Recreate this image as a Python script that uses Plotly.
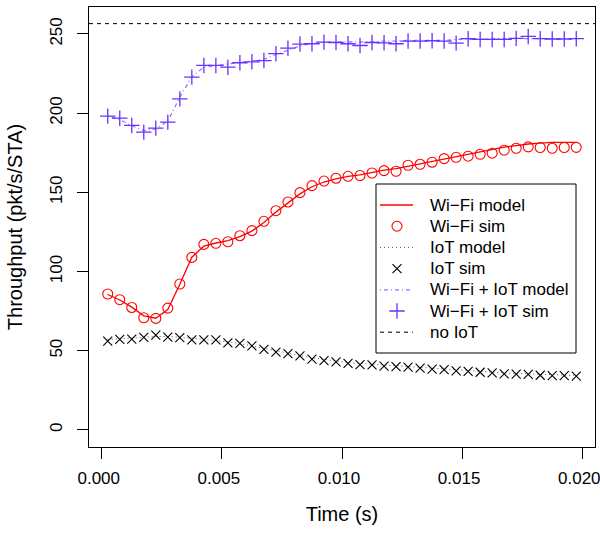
import plotly.graph_objects as go

time_s = [0.00025, 0.00075, 0.00125, 0.00175, 0.00225, 0.00275, 0.00325, 0.00375,
          0.00425, 0.00475, 0.00525, 0.00575, 0.00625, 0.00675, 0.00725, 0.00775,
          0.00825, 0.00875, 0.00925, 0.00975, 0.01025, 0.01075, 0.01125, 0.01175,
          0.01225, 0.01275, 0.01325, 0.01375, 0.01425, 0.01475, 0.01525, 0.01575,
          0.01625, 0.01675, 0.01725, 0.01775, 0.01825, 0.01875, 0.01925, 0.01975]

wifi_model = [85.5, 82, 77.5, 72, 70.5, 76, 92, 109, 116, 118, 119.5, 122, 125.5, 131,
              137.5, 143.5, 149, 153.5, 156.5, 158.5, 160, 161, 162.5, 164, 165, 166.5,
              168, 169.5, 171, 172.5, 174, 175.5, 177, 178.5, 179.5, 180.5, 181, 181.5,
              181.5, 181.5]
wifi_sim = [85.8, 82.2, 77.3, 70.8, 70.4, 76.9, 92.1, 108.9, 117.1, 117.8, 118.8, 122.6,
            125.8, 131.7, 138.4, 143.9, 149.8, 154.2, 157.1, 158.9, 160.1, 160.6, 162.2,
            163.7, 163.3, 167.1, 167.7, 169.0, 171.3, 172.1, 172.8, 174.0, 174.7, 176.6,
            177.8, 178.7, 178.3, 177.8, 178.3, 178.4]
iot_model = [57, 57.5, 58, 58.5, 59, 59, 58.5, 58, 57, 56.5, 55.5, 54.5, 53, 51.5, 50,
             48.5, 47, 45.5, 44.5, 43.5, 42.5, 42, 41.5, 41, 40.5, 40, 39.5, 39, 38.5, 38,
             37.5, 37, 36.5, 36, 35.5, 35.5, 35, 35, 34.5, 34.5]
iot_sim = [56.1, 57.1, 57.3, 58.4, 59.9, 58.6, 58.2, 56.9, 56.9, 56.9, 55.0, 54.6, 53.1,
           50.8, 49.1, 48.2, 46.8, 44.7, 43.8, 43.0, 42.0, 41.2, 41.0, 40.2, 40.0, 39.6,
           39.0, 38.3, 38.0, 37.2, 37.0, 36.4, 36.0, 35.4, 35.2, 35.0, 34.5, 34.3, 34.2,
           34.0]
both_model = [198, 196, 192, 189, 190, 195, 210, 223, 229, 230, 231, 232, 233, 234, 237,
              240, 242.5, 244, 244.5, 245, 245, 245, 245, 245.5, 245.5, 246, 246, 246, 246,
              246.5, 246.5, 246.5, 247, 247, 247, 247, 247, 247, 247, 247]
both_sim = [198.1, 196.8, 192.2, 188.0, 190.5, 194.3, 209.0, 222.7, 230.1, 230.1, 229.0,
            231.8, 232.4, 233.2, 237.5, 241.0, 243.6, 243.8, 244.8, 244.6, 243.8, 242.7,
            244.6, 244.4, 243.8, 245.5, 245.5, 245.7, 245.5, 244.2, 247.0, 246.5, 246.5,
            246.5, 247.2, 248.4, 247.0, 246.8, 246.8, 247.0]
no_iot = 256.5

x_ticks = [0.0, 0.005, 0.01, 0.015, 0.02]
x_ticklabels = ["0.000", "0.005", "0.010", "0.015", "0.020"]
y_ticks = [0, 50, 100, 150, 200, 250]
y_ticklabels = ["0", "50", "100", "150", "200", "250"]

legend_labels = ["Wi\u2212Fi model", "Wi\u2212Fi sim", "IoT model", "IoT sim",
                 "Wi\u2212Fi + IoT model", "Wi\u2212Fi + IoT sim", "no IoT"]

RED = "#FF0000"
PURPLE = "#6633FF"
PURPLE_LINE = "#9A70FF"
FONT = "Liberation Sans, Arial, sans-serif"

# styles per series (same order as legend_labels)
styles = [
    dict(mode="lines", line=dict(color=RED, width=1.3)),
    dict(mode="markers", marker=dict(symbol="circle-open", size=10, color=RED,
                                     line=dict(width=1.1, color=RED))),
    dict(mode="lines", line=dict(color="#555555", width=1, dash="1px,3px")),
    dict(mode="markers", marker=dict(symbol="x-thin-open", size=9, color="black",
                                     line=dict(width=1.1, color="black"))),
    dict(mode="lines", line=dict(color=PURPLE_LINE, width=1.2, dash="1px,3px,4px,3px")),
    dict(mode="markers", marker=dict(symbol="cross-thin-open", size=11, color=PURPLE,
                                     line=dict(width=1.3, color=PURPLE))),
    dict(mode="lines", line=dict(color="black", width=1, dash="4px,4px")),
]
series = [wifi_model, wifi_sim, iot_model, iot_sim, both_model, both_sim]

fig = go.Figure()
for name, ys, st in zip(legend_labels[:6], series, styles[:6]):
    fig.add_trace(go.Scatter(x=time_s, y=ys, name=name, showlegend=False,
                             hoverinfo="x+y+name", **st))
fig.add_shape(type="line", xref="x domain", x0=0, x1=1, yref="y", y0=no_iot, y1=no_iot,
              line=dict(color="black", width=1, dash="4px,4px"))

# ---- legend box drawn on a pixel-based overlay axis (matches R legend spacing)
PLOT_L, PLOT_R, PLOT_T, PLOT_B = 89, 595, 7, 447
LEG_L, LEG_R, LEG_T, LEG_B = 376, 576, 184, 353
ROW0, ROW_STEP = 205, 21.2
SYM_L, SYM_R, SYM_C, TEXT_X = 380, 413, 397, 428

fig.add_shape(type="rect", xref="x2", yref="y2", x0=LEG_L, x1=LEG_R, y0=LEG_T, y1=LEG_B,
              line=dict(color="black", width=1), fillcolor="white", layer="below")
for i, (label, st) in enumerate(zip(legend_labels, styles)):
    ry = ROW0 + ROW_STEP * i
    if st["mode"] == "lines":
        fig.add_trace(go.Scatter(x=[SYM_L, SYM_R], y=[ry, ry], xaxis="x2", yaxis="y2",
                                 showlegend=False, hoverinfo="skip", **st))
    else:
        fig.add_trace(go.Scatter(x=[SYM_C], y=[ry], xaxis="x2", yaxis="y2",
                                 showlegend=False, hoverinfo="skip", **st))
    fig.add_annotation(x=TEXT_X, y=ry, xref="x2", yref="y2", text=label, showarrow=False,
                       xanchor="left", yanchor="middle", font=dict(size=17))

fig.update_layout(
    width=600, height=534,
    margin=dict(l=PLOT_L, r=600 - PLOT_R, t=PLOT_T, b=534 - PLOT_B),
    plot_bgcolor="white", paper_bgcolor="white",
    font=dict(family=FONT, size=17, color="black"),
    showlegend=False,
    xaxis=dict(range=[-0.00053, 0.02053], tickvals=x_ticks, ticktext=x_ticklabels,
               ticks="outside", ticklen=11, tickcolor="black", showgrid=False,
               zeroline=False, showline=True, mirror=True, linecolor="black", linewidth=1,
               ticklabelstandoff=5, ticklabelshift=-3, ticklabeloverflow="allow",
               automargin=False,
               title=dict(text="Time (s)", standoff=19)),
    yaxis=dict(range=[-10.8, 267], tickvals=y_ticks, ticktext=y_ticklabels,
               ticks="outside", ticklen=11, tickcolor="black", showgrid=False,
               zeroline=False, showline=True, mirror=True, linecolor="black", linewidth=1,
               tickangle=-90, ticklabelstandoff=8, automargin=False,
               title=dict(text="Throughput (pkt/s/STA)", standoff=19)),
    xaxis2=dict(range=[PLOT_L, PLOT_R], overlaying="x", anchor="y2", visible=False,
                fixedrange=True),
    yaxis2=dict(range=[PLOT_B, PLOT_T], overlaying="y", anchor="x2", visible=False,
                fixedrange=True),
)

fig.write_html("out.html", config={"displayModeBar": False},
               post_script="document.body.style.margin='0';document.body.style.overflow='hidden';")
